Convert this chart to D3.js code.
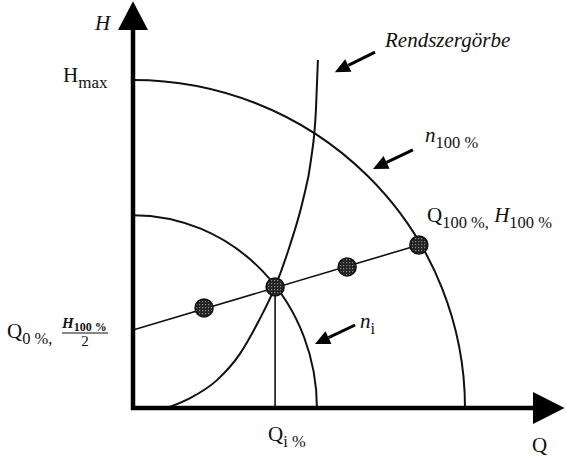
<!DOCTYPE html>
<html><head><meta charset="utf-8">
<script src="https://cdn.jsdelivr.net/npm/d3@7"></script>
<style>html,body{margin:0;padding:0;background:#fff;} svg{display:block;}</style>
</head><body>
<div id="chart"></div>
<script>
// ---- data (Q in % of Qmax of n100 curve, H in % of Hmax) ----
const axisExtent = { qMax: 130, hMax: 124 };
const pumpCurves = [
  { name: "n100", qIntercept: 100, hIntercept: 100 },
  { name: "ni",   qIntercept: 55.4, hIntercept: 58.8 }
];
const systemQ = [10.2, 17.2, 25.3, 32.2, 37.7, 42.8, 47.3, 51.2, 53.6, 55.1, 55.7];
const systemH = [0, 3.0, 8.5, 16.5, 26.2, 36.9, 49.7, 63.4, 75.6, 90.9, 106.1];
const operatingLineQ = [0, 86.1];
const operatingLineH = [23.8, 49.7];
const pointQ = [21.4, 42.8, 64.5, 86.1];
const pointH = [30.5, 36.9, 43.0, 49.7];
const qiDrop = { q: 42.8, h: 36.9 };
const annotationArrows = [
  { from: [72.9, 108.5], to: [60.8, 102.4] },
  { from: [84.3, 78.7],  to: [72.3, 72.9] },
  { from: [66.9, 25.3],  to: [54.8, 19.5] }
];

const W = 567, H = 463;
const x = d3.scaleLinear().domain([0, 100]).range([133, 465]);
const y = d3.scaleLinear().domain([0, 100]).range([408, 80]);

const svg = d3.select("#chart").append("svg").attr("width", W).attr("height", H);
const defs = svg.append("defs");
const pat = defs.append("pattern").attr("id", "dots").attr("width", 3).attr("height", 3)
  .attr("patternUnits", "userSpaceOnUse");
pat.append("rect").attr("width", 3).attr("height", 3).attr("fill", "#222");
pat.append("rect").attr("x", 1).attr("y", 1).attr("width", 1.2).attr("height", 1.2).attr("fill", "#8a8a8a");

// pump curves (elliptical quarter arcs)
pumpCurves.forEach(c => {
  const rx = x(c.qIntercept) - x(0), ry = y(0) - y(c.hIntercept);
  svg.append("path")
    .attr("d", `M${x(0)},${y(c.hIntercept)} A${rx},${ry} 0 0 1 ${x(c.qIntercept)},${y(0)}`)
    .attr("fill", "none").attr("stroke", "#111").attr("stroke-width", 2);
});

// system curve
const sys = systemQ.map((q, i) => [q, systemH[i]]);
svg.append("path")
  .attr("d", d3.line().x(d => x(d[0])).y(d => y(d[1])).curve(d3.curveMonotoneX)(sys))
  .attr("fill", "none").attr("stroke", "#111").attr("stroke-width", 2);

// operating line
svg.append("line")
  .attr("x1", x(operatingLineQ[0])).attr("y1", y(operatingLineH[0]))
  .attr("x2", x(operatingLineQ[1])).attr("y2", y(operatingLineH[1]))
  .attr("stroke", "#111").attr("stroke-width", 1.6);

// vertical drop line
svg.append("line")
  .attr("x1", x(qiDrop.q)).attr("y1", y(qiDrop.h))
  .attr("x2", x(qiDrop.q)).attr("y2", y(0))
  .attr("stroke", "#111").attr("stroke-width", 1.6);

// axes
svg.append("line").attr("x1", x(0)).attr("y1", y(0) + 2).attr("x2", x(0)).attr("y2", 28)
  .attr("stroke", "#000").attr("stroke-width", 4.5);
svg.append("line").attr("x1", x(0) - 2).attr("y1", y(0)).attr("x2", 536).attr("y2", y(0))
  .attr("stroke", "#000").attr("stroke-width", 4.5);
svg.append("path").attr("d", `M${x(0)},${y(axisExtent.hMax)} L${x(0) + 15},30 L${x(0) - 15},30 Z`).attr("fill", "#000");
svg.append("path").attr("d", `M${x(axisExtent.qMax)},${y(0)} L533,${y(0) - 16} L533,${y(0) + 16} Z`).attr("fill", "#000");

// points
svg.selectAll("circle.pt").data(pointQ.map((q, i) => [q, pointH[i]])).enter()
  .append("circle").attr("class", "pt")
  .attr("cx", d => x(d[0])).attr("cy", d => y(d[1])).attr("r", 9)
  .attr("fill", "url(#dots)").attr("stroke", "#111").attr("stroke-width", 1.5);

// annotation arrows
annotationArrows.forEach(a => {
  const x1 = x(a.from[0]), y1 = y(a.from[1]), x2 = x(a.to[0]), y2 = y(a.to[1]);
  const ang = Math.atan2(y2 - y1, x2 - x1);
  const L = 15, Wd = 7;
  const bx = x2 - L * Math.cos(ang), by = y2 - L * Math.sin(ang);
  svg.append("line").attr("x1", x1).attr("y1", y1).attr("x2", bx).attr("y2", by)
    .attr("stroke", "#000").attr("stroke-width", 3);
  const px = -Math.sin(ang) * Wd, py = Math.cos(ang) * Wd;
  svg.append("path").attr("d", `M${x2},${y2} L${bx + px},${by + py} L${bx - px},${by - py} Z`).attr("fill", "#000");
});

// text labels
const serif = "'Liberation Serif', 'Times New Roman', serif";
function label(px, py, parts, size) {
  const t = svg.append("text").attr("x", px).attr("y", py)
    .attr("font-family", serif).attr("font-size", size || 21).attr("fill", "#111");
  parts.forEach(p => {
    const ts = t.append("tspan").text(p.t);
    if (p.sub) ts.attr("font-size", p.size || 16.5).attr("dy", p.dy !== undefined ? p.dy : 6);
    if (p.up) ts.attr("dy", p.up);
    if (p.it) ts.attr("font-style", "italic");
  });
  return t;
}
label(95, 30, [{ t: "H", it: true }]);
label(63, 82, [{ t: "H" }, { t: "max", sub: true, size: 17, dy: 6 }]);
svg.append("text").attr("x", 385).attr("y", 47).attr("font-family", serif)
  .attr("font-style", "italic").attr("font-size", 21).attr("fill", "#111").text("Rendszergörbe");
label(425, 142, [{ t: "n", it: true }, { t: "100 %", sub: true, dy: 6 }]);
label(427, 222, [{ t: "Q" }, { t: "100 %,", sub: true, dy: 6 }, { t: " H", it: true, up: -6 }, { t: "100 %", sub: true, dy: 6 }]);
label(7, 338, [{ t: "Q" }, { t: "0 %,", sub: true, dy: 6 }]);
svg.append("text").attr("x", 62).attr("y", 328).attr("font-family", serif).attr("font-size", 15)
  .attr("font-weight", "bold").attr("fill", "#111")
  .html('<tspan font-style="italic">H</tspan><tspan font-size="12" dy="3">100 %</tspan>');
svg.append("line").attr("x1", 62).attr("x2", 108).attr("y1", 333).attr("y2", 333).attr("stroke", "#111").attr("stroke-width", 1.2);
svg.append("text").attr("x", 85).attr("y", 346).attr("text-anchor", "middle").attr("font-family", serif)
  .attr("font-size", 15).attr("fill", "#111").text("2");
label(360, 328, [{ t: "n", it: true }, { t: "i", sub: true, dy: 6 }]);
label(268, 441, [{ t: "Q" }, { t: "i %", sub: true, dy: 6 }]);
label(532, 452, [{ t: "Q" }]);
</script>
</body></html>
